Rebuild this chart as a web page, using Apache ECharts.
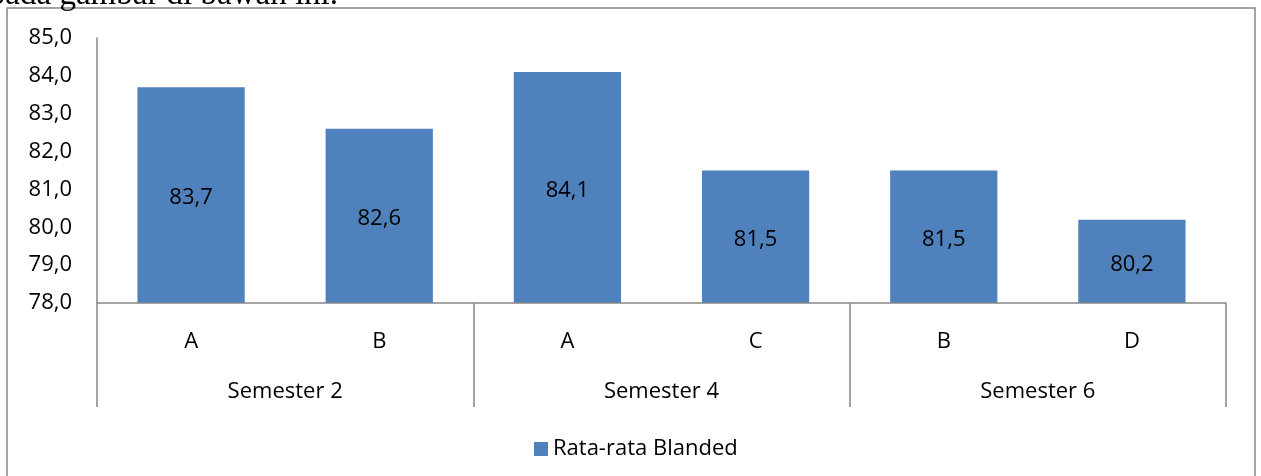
<!DOCTYPE html>
<html>
<head>
<meta charset="utf-8">
<script src="https://cdn.jsdelivr.net/npm/echarts@6/dist/echarts.min.js"></script>
<style>
  html, body { margin: 0; padding: 0; background: #fff; }
  #chart { width: 1261px; height: 476px; }
</style>
</head>
<body>
<div id="chart"></div>
<script>
// Class per semester and its average score
const classes = ['A', 'B', 'A', 'C', 'B', 'D'];
const semesters = ['Semester 2', 'Semester 4', 'Semester 6'];
const averages = [83.7, 82.6, 84.1, 81.5, 81.5, 80.2];
const seriesName = 'Rata-rata Blanded';
const yTicks = { min: 78, max: 85, step: 1 };

const FONT = '"Open Sans", sans-serif';
const GRAY = '#878787';
const BLUE = '#4F81BD';
const fmt = v => Number(v).toFixed(1).replace('.', ',');

const chart = echarts.init(document.getElementById('chart'), null, { renderer: 'canvas' });

chart.setOption({
  animation: false,
  backgroundColor: '#fff',
  textStyle: { fontFamily: FONT },
  graphic: [
    {
      type: 'rect',
      shape: { x: 7, y: 8, width: 1248, height: 480 },
      style: { fill: 'none', stroke: GRAY, lineWidth: 1.5 },
      z: 0
    },
    {
      type: 'text',
      x: 338, y: 12,
      style: {
        text: 'pada gambar di bawah ini.',
        font: '33px "Liberation Serif", serif',
        fill: '#000',
        textAlign: 'right',
        textVerticalAlign: 'bottom'
      }
    }
  ],
  legend: {
    data: [seriesName],
    left: 529,
    top: 433,
    itemWidth: 14,
    itemHeight: 14,
    icon: 'rect',
    textStyle: { fontSize: 22, color: '#000', fontFamily: FONT }
  },
  grid: { left: 97, right: 35, top: 38, bottom: 173, containLabel: false },
  xAxis: [
    {
      type: 'category',
      data: classes,
      position: 'bottom',
      axisLine: { show: true, lineStyle: { color: GRAY, width: 1.5 } },
      axisTick: { show: false },
      axisLabel: { margin: 28, fontSize: 22, color: '#000', fontFamily: FONT },
      z: 5
    },
    {
      type: 'category',
      data: semesters,
      position: 'bottom',
      axisLine: { show: false },
      axisTick: { show: true, length: 104, lineStyle: { color: GRAY, width: 1.5 } },
      axisLabel: { margin: 78, fontSize: 22, color: '#000', fontFamily: FONT },
      splitLine: { show: false }
    }
  ],
  yAxis: {
    type: 'value',
    min: yTicks.min,
    max: yTicks.max,
    interval: yTicks.step,
    axisLine: { show: true, lineStyle: { color: GRAY, width: 1.5 } },
    axisTick: { show: false },
    splitLine: { show: false },
    axisLabel: { margin: 25, fontSize: 22, color: '#000', fontFamily: FONT, formatter: fmt }
  },
  series: [
    {
      name: seriesName,
      type: 'bar',
      xAxisIndex: 0,
      data: averages,
      barWidth: '57%',
      itemStyle: { color: BLUE },
      label: {
        show: true,
        position: 'inside',
        offset: [0, 3],
        fontSize: 22,
        color: '#000',
        fontFamily: FONT,
        formatter: p => fmt(p.value)
      }
    }
  ]
});
</script>
</body>
</html>
